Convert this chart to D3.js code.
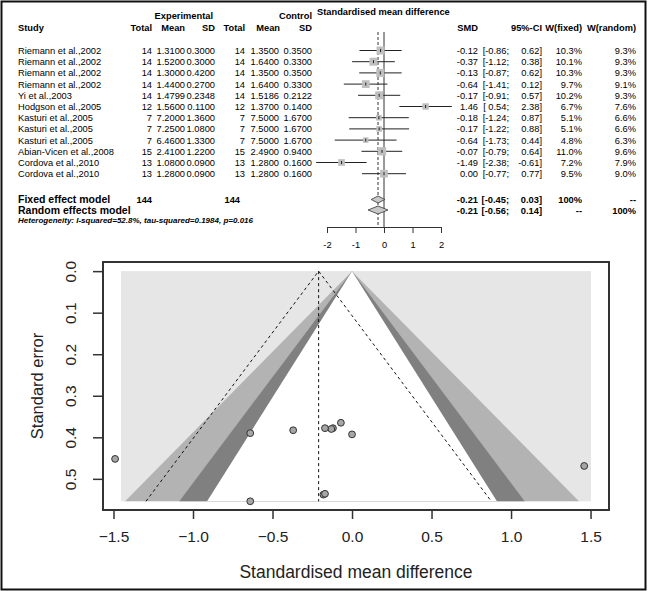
<!DOCTYPE html>
<html>
<head>
<meta charset="utf-8">
<script src="https://cdn.jsdelivr.net/npm/d3@7"></script>
<style>
  html, body { margin: 0; padding: 0; background: #fff; }
  svg { display: block; font-family: "Liberation Sans", Arial, Helvetica, sans-serif; }
</style>
</head>
<body>
<script>
// ---------------- DATA ----------------
const studies = ["Riemann et al.,2002","Riemann et al.,2002","Riemann et al.,2002","Riemann et al.,2002",
  "Yi et al.,2003","Hodgson et al.,2005","Kasturi et al.,2005","Kasturi et al.,2005","Kasturi et al.,2005",
  "Abian-Vicen et al.,2008","Cordova et al.,2010","Cordova et al.,2010"];
const expTotal = [14,14,14,14,14,12,7,7,7,15,13,13];
const expMean = ["1.3100","1.5200","1.3000","1.4400","1.4799","1.5600","7.2000","7.2500","6.4600","2.4100","1.0800","1.2800"];
const expSD = ["0.3000","0.3000","0.4200","0.2700","0.2348","0.1100","1.3600","1.0800","1.3300","1.2200","0.0900","0.0900"];
const ctrlTotal = [14,14,14,14,14,12,7,7,7,15,13,13];
const ctrlMean = ["1.3500","1.6400","1.3500","1.6400","1.5186","1.3700","7.5000","7.5000","7.5000","2.4900","1.2800","1.2800"];
const ctrlSD = ["0.3500","0.3300","0.3500","0.3300","0.2122","0.1400","1.6700","1.6700","1.6700","0.9400","0.1600","0.1600"];
const smd = [-0.12,-0.37,-0.13,-0.64,-0.17,1.46,-0.18,-0.17,-0.64,-0.07,-1.49,0.00];
const ciLow = [-0.86,-1.12,-0.87,-1.41,-0.91,0.54,-1.24,-1.22,-1.73,-0.79,-2.38,-0.77];
const ciHigh = [0.62,0.38,0.62,0.12,0.57,2.38,0.87,0.88,0.44,0.64,-0.61,0.77];
const wFixed = [10.3,10.1,10.3,9.7,10.2,6.7,5.1,5.1,4.8,11.0,7.2,9.5];
const wRandom = [9.3,9.3,9.3,9.1,9.3,7.6,6.6,6.6,6.3,9.6,7.9,9.0];
const stdErr = [0.378,0.383,0.380,0.390,0.378,0.469,0.538,0.536,0.554,0.365,0.452,0.393];

const pooledLabels = ["Fixed effect model","Random effects model"];
const pooledEst = [-0.21,-0.21];
const pooledLow = [-0.45,-0.56];
const pooledHigh = [0.03,0.14];
const pooledWF = ["100%","--"];
const pooledWR = ["--","100%"];
const totalN = [144,144];
const heterogeneity = "Heterogeneity: I-squared=52.8%, tau-squared=0.1984, p=0.016";

const forestTicks = [-2,-1,0,1,2];
const funnelXTicks = [-1.5,-1.0,-0.5,0.0,0.5,1.0,1.5];
const funnelYTicks = [0.0,0.1,0.2,0.3,0.4,0.5];
const contourZ = [2.576, 1.96, 1.645];          // 99%, 95%, 90% contours
const contourFill = ["#b3b3b3", "#808080", "#ffffff"];
const seMax = 0.554;

// ---------------- SVG ----------------
const W = 648, H = 591;
const svg = d3.select("body").append("svg").attr("width", W).attr("height", H);
svg.append("rect").attr("x",0).attr("y",0).attr("width",W).attr("height",H).attr("fill","#fff");

// ================= FOREST =================
const fs = 9.3;
const fx = d3.scaleLinear().domain([-2, 2]).range([327, 441]);
const rowY = i => 50.5 + i * 11.2;
const F = svg.append("g").attr("font-size", fs).attr("fill", "#000");

function txt(g, x, y, s, anchor, opts = {}) {
  const t = g.append("text").attr("x", x).attr("y", y).attr("text-anchor", anchor || "start").text(s);
  if (opts.bold) t.attr("font-weight", "bold");
  if (opts.italic) t.attr("font-style", "italic");
  if (opts.size) t.attr("font-size", opts.size);
  return t;
}

// headers
txt(F, 213, 18.5, "Experimental", "end", {bold:true});
txt(F, 312, 18.5, "Control", "end", {bold:true});
txt(F, 317, 15, "Standardised mean difference", "start", {bold:true});
const h2 = 31;
txt(F, 18, h2, "Study", "start", {bold:true});
txt(F, 152, h2, "Total", "end", {bold:true});
txt(F, 185, h2, "Mean", "end", {bold:true});
txt(F, 215, h2, "SD", "end", {bold:true});
txt(F, 245, h2, "Total", "end", {bold:true});
txt(F, 280, h2, "Mean", "end", {bold:true});
txt(F, 312, h2, "SD", "end", {bold:true});
txt(F, 478, h2, "SMD", "end", {bold:true});
txt(F, 542, h2, "95%-CI", "end", {bold:true});
txt(F, 582, h2, "W(fixed)", "end", {bold:true});
txt(F, 636, h2, "W(random)", "end", {bold:true});

const f2 = v => (v < 0 ? "-" : "") + Math.abs(v).toFixed(2);
const pad = v => (v < 0 ? "-" : " ") + Math.abs(v).toFixed(2);

studies.forEach((s, i) => {
  const b = rowY(i) + 3.5;
  txt(F, 18, b, s, "start");
  txt(F, 152, b, String(expTotal[i]), "end");
  txt(F, 185, b, expMean[i], "end");
  txt(F, 215, b, expSD[i], "end");
  txt(F, 245, b, String(ctrlTotal[i]), "end");
  txt(F, 279, b, ctrlMean[i], "end");
  txt(F, 312, b, ctrlSD[i], "end");
  txt(F, 478, b, f2(smd[i]), "end");
  txt(F, 509, b, "[" + pad(ciLow[i]) + ";", "end");
  txt(F, 542, b, f2(ciHigh[i]) + "]", "end");
  txt(F, 582, b, wFixed[i].toFixed(1) + "%", "end");
  txt(F, 636, b, wRandom[i].toFixed(1) + "%", "end");
});

const pooledY = [199.5, 210];
pooledLabels.forEach((s, k) => {
  const b = pooledY[k] + 3.5;
  txt(F, 18, b, s, "start", {bold:true, size:10.5});
  if (k === 0) {
    txt(F, 152, b, String(totalN[0]), "end", {bold:true});
    txt(F, 240, b, String(totalN[1]), "end", {bold:true});
  }
  txt(F, 478, b, f2(pooledEst[k]), "end", {bold:true});
  txt(F, 509, b, "[" + pad(pooledLow[k]) + ";", "end", {bold:true});
  txt(F, 542, b, f2(pooledHigh[k]) + "]", "end", {bold:true});
  txt(F, 582, b, pooledWF[k], "end", {bold:true});
  txt(F, 636, b, pooledWR[k], "end", {bold:true});
});
txt(F, 18, 223, heterogeneity, "start", {bold:true, italic:true, size:8});

// reference lines
F.append("line").attr("x1", fx(0)).attr("x2", fx(0)).attr("y1", 32).attr("y2", 227)
  .attr("stroke", "#333").attr("stroke-width", 1);
F.append("line").attr("x1", fx(pooledEst[0])).attr("x2", fx(pooledEst[0])).attr("y1", 32).attr("y2", 227)
  .attr("stroke", "#333").attr("stroke-width", 1).attr("stroke-dasharray", "3,2");

// CI lines, squares
const FM = F.append("g");
studies.forEach((s, i) => {
  const y = rowY(i);
  FM.append("line").attr("x1", fx(ciLow[i])).attr("x2", fx(ciHigh[i])).attr("y1", y).attr("y2", y)
    .attr("stroke", "#222").attr("stroke-width", 1);
  const side = 2.5 * Math.sqrt(wFixed[i]);
  FM.append("rect").attr("x", fx(smd[i]) - side/2).attr("y", y - side/2).attr("width", side).attr("height", side)
    .attr("fill", "#bfbfbf");
  FM.append("line").attr("x1", fx(smd[i])).attr("x2", fx(smd[i])).attr("y1", y - 1.5).attr("y2", y + 1.5)
    .attr("stroke", "#222").attr("stroke-width", 1);
});
const dh = [3.5, 4];
pooledEst.forEach((e, k) => {
  const y = pooledY[k];
  const pts = [[fx(pooledLow[k]), y], [fx(e), y - dh[k]], [fx(pooledHigh[k]), y], [fx(e), y + dh[k]]];
  FM.append("polygon").attr("points", pts.map(p => p.join(",")).join(" "))
    .attr("fill", "#c8c8c8").attr("stroke", "#333").attr("stroke-width", 0.8);
});

// forest axis
const fAxis = F.append("g").attr("transform", "translate(0,227)")
  .call(d3.axisBottom(fx).tickValues(forestTicks).tickSize(6).tickPadding(8).tickFormat(d => String(d)));
fAxis.select(".domain").attr("stroke", "#333");
fAxis.selectAll(".tick line").attr("stroke", "#333");
fAxis.selectAll("text").attr("font-size", fs).attr("font-family", null).attr("fill", "#000");

// ================= FUNNEL =================
const px = d3.scaleLinear().domain([-1.566, 1.616]).range([103, 609]);
const py = d3.scaleLinear().domain([-0.022, 0.575]).range([262, 510]);
const P = svg.append("g");

// background light region
P.append("rect").attr("x", px(-1.453)).attr("y", py(0)).attr("width", px(1.503) - px(-1.453))
  .attr("height", py(seMax) - py(0)).attr("fill", "#e6e6e6");
contourZ.forEach((z, k) => {
  const pts = [[px(0), py(0)], [px(z * seMax), py(seMax)], [px(-z * seMax), py(seMax)]];
  P.append("polygon").attr("points", pts.map(p => p.join(",")).join(" ")).attr("fill", contourFill[k]);
});

// pseudo confidence funnel (dashed) around fixed estimate
const fe = pooledEst[0];
const dashed = "3,3";
P.append("path").attr("d", d3.line()([[px(fe - 1.96 * seMax), py(seMax)], [px(fe), py(0)], [px(fe + 1.96 * seMax), py(seMax)]]))
  .attr("fill", "none").attr("stroke", "#111").attr("stroke-width", 1).attr("stroke-dasharray", dashed);
P.append("line").attr("x1", px(fe)).attr("x2", px(fe)).attr("y1", py(0)).attr("y2", py(seMax))
  .attr("stroke", "#111").attr("stroke-width", 1).attr("stroke-dasharray", dashed);

// points
P.selectAll("circle.pt").data(smd).enter().append("circle").attr("class", "pt")
  .attr("cx", (d) => px(d)).attr("cy", (d, i) => py(stdErr[i])).attr("r", 3.4)
  .attr("fill", "#a6a6a6").attr("stroke", "#333").attr("stroke-width", 1);

// box
P.append("rect").attr("x", 103).attr("y", 262).attr("width", 506).attr("height", 248)
  .attr("fill", "none").attr("stroke", "#333").attr("stroke-width", 2);

// axes
const minus = v => (v < 0 ? "\u2212" : "") + Math.abs(v).toFixed(1);
const xAx = P.append("g").attr("transform", "translate(0,510)")
  .call(d3.axisBottom(px).tickValues(funnelXTicks).tickSize(9).tickPadding(12).tickFormat(minus));
xAx.select(".domain").remove();
xAx.selectAll(".tick line").attr("stroke", "#333").attr("stroke-width", 1.5);
xAx.selectAll("text").attr("font-size", 15.5).attr("font-family", null).attr("fill", "#222");

const yAx = P.append("g").attr("transform", "translate(103,0)")
  .call(d3.axisLeft(py).tickValues(funnelYTicks).tickSize(10).tickFormat(d => d.toFixed(1)));
yAx.select(".domain").remove();
yAx.selectAll(".tick line").attr("stroke", "#333").attr("stroke-width", 1.5);
yAx.selectAll("text").attr("font-size", 15.5).attr("font-family", null).attr("fill", "#222")
  .attr("x", null).attr("dy", null).attr("text-anchor", "middle")
  .attr("transform", "translate(-27,0) rotate(-90)");

P.append("text").attr("transform", "translate(43,386) rotate(-90)").attr("text-anchor", "middle")
  .attr("font-size", 16.5).attr("fill", "#222").text("Standard error");
P.append("text").attr("x", 356).attr("y", 578).attr("text-anchor", "middle")
  .attr("font-size", 17.5).attr("fill", "#222").text("Standardised mean difference");

// outer frame
svg.append("rect").attr("x", 1.5).attr("y", 1.5).attr("width", 644).attr("height", 588)
  .attr("fill", "none").attr("stroke", "#111").attr("stroke-width", 2);
</script>
</body>
</html>
